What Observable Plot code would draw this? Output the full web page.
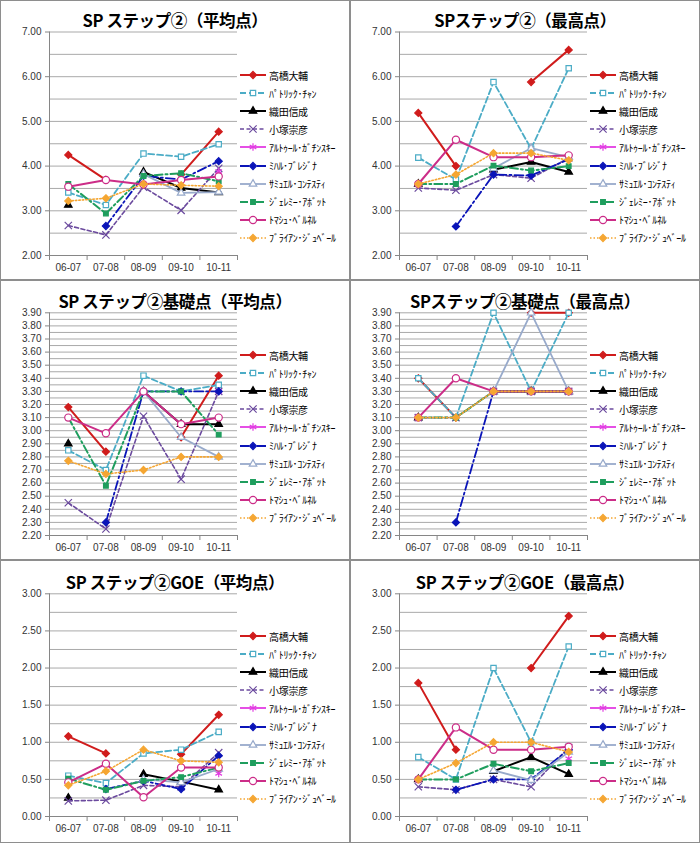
<!DOCTYPE html>
<html><head><meta charset="utf-8">
<script src="https://cdn.jsdelivr.net/npm/d3@7"></script>
<script src="https://cdn.jsdelivr.net/npm/@observablehq/plot@0.6"></script>
<style>
body{margin:0;background:#fff;}
#grid{display:grid;grid-template-columns:350px 350px;grid-template-rows:280px 280px 283px;width:700px;}
.panel{position:relative;overflow:hidden;background:#fff}
.panel::after{content:"";position:absolute;left:0;top:0;right:0;bottom:0;border:1px solid #8e8e8e;pointer-events:none}
.title{position:absolute;left:0;right:0;text-align:center;font:bold 16.5px "Noto Sans CJK JP";line-height:17px;color:#000;white-space:nowrap;letter-spacing:-0.4px}
.panel svg.plot{position:absolute;left:0;top:0}
.item{position:absolute;left:239px;height:14px;display:flex;align-items:center;white-space:nowrap;font:10px "Noto Sans CJK JP";color:#000;letter-spacing:-0.3px}
.item svg{margin-right:1px}
</style></head>
<body>
<div id="grid"></div>
<script>
const seasons = ["06-07","07-08","08-09","09-10","10-11"];
const skaters = ["高橋大輔","ﾊﾟﾄﾘｯｸ･ﾁｬﾝ","織田信成","小塚崇彦","ｱﾙﾄｩｰﾙ･ｶﾞﾁﾝｽｷｰ","ﾐﾊﾙ･ﾌﾞﾚｼﾞﾅ","ｻﾐｭｴﾙ･ｺﾝﾃｽﾃｨ","ｼﾞｪﾚﾐｰ･ｱﾎﾞｯﾄ","ﾄﾏｼｭ･ﾍﾞﾙﾈﾙ","ﾌﾞﾗｲｱﾝ･ｼﾞｭﾍﾞｰﾙ"];
const titles = ["SP ステップ②（平均点）","SPステップ②（最高点）","SP ステップ②基礎点（平均点）","SPステップ②基礎点（最高点）","SP ステップ②GOE（平均点）","SP ステップ②GOE（最高点）"];

const avgScore = [
  [4.25, 3.69, null, 3.81, 4.77],
  [3.41, 3.13, 4.28, 4.21, 4.49],
  [3.13, null, 3.87, 3.51, 3.41],
  [2.67, 2.46, 3.53, 3.01, 3.95],
  [null, null, null, null, 3.88],
  [null, 2.66, 3.78, 3.70, 4.11],
  [null, null, 3.82, 3.40, 3.42],
  [3.60, 2.94, 3.78, 3.84, 3.66],
  [3.54, 3.69, 3.59, 3.69, 3.77],
  [3.22, 3.28, 3.60, 3.57, 3.55]
];
const maxScore = [
  [5.19, 4.00, null, 5.88, 6.60],
  [4.19, 3.70, 5.88, 4.39, 6.19],
  [3.60, null, 3.92, 4.09, 3.87],
  [3.51, 3.46, 3.81, 3.73, 4.18],
  [null, null, null, null, 4.20],
  [null, 2.65, 3.81, 3.79, 4.15],
  [null, null, 3.95, 4.40, 4.20],
  [3.60, 3.60, 4.01, 3.90, 4.00],
  [3.60, 4.59, 4.20, 4.20, 4.24],
  [3.60, 3.81, 4.29, 4.29, 4.13]
];
const avgBase = [
  [3.18, 2.84, null, 2.95, 3.42],
  [2.85, 2.70, 3.42, 3.30, 3.35],
  [2.90, null, 3.30, 3.05, 3.05],
  [2.45, 2.25, 3.11, 2.63, 3.30],
  [null, null, null, null, 3.30],
  [null, 2.30, 3.30, 3.30, 3.30],
  [null, null, 3.30, 2.95, 2.80],
  [3.10, 2.58, 3.30, 3.30, 2.97],
  [3.10, 2.98, 3.30, 3.05, 3.10],
  [2.77, 2.67, 2.70, 2.80, 2.80]
];
const maxBase = [
  [3.40, 3.10, null, 3.90, 3.90],
  [3.40, 3.10, 3.90, 3.30, 3.90],
  [3.10, null, 3.30, 3.30, 3.30],
  [3.10, 3.10, 3.30, 3.30, 3.30],
  [null, null, null, null, 3.30],
  [null, 2.30, 3.30, 3.30, 3.30],
  [null, null, 3.30, 3.90, 3.30],
  [3.10, 3.10, 3.30, 3.30, 3.30],
  [3.10, 3.40, 3.30, 3.30, 3.30],
  [3.10, 3.10, 3.30, 3.30, 3.30]
];
const avgGoe = [
  [1.08, 0.85, null, 0.84, 1.37],
  [0.55, 0.45, 0.85, 0.90, 1.14],
  [0.25, null, 0.57, 0.47, 0.36],
  [0.21, 0.22, 0.42, 0.40, 0.86],
  [null, null, null, null, 0.58],
  [null, 0.37, 0.48, 0.37, 0.82],
  [null, null, 0.50, 0.46, 0.64],
  [0.51, 0.36, 0.48, 0.53, 0.66],
  [0.46, 0.71, 0.26, 0.66, 0.66],
  [0.42, 0.61, 0.90, 0.75, 0.73]
];
const maxGoe = [
  [1.80, 0.90, null, 2.00, 2.70],
  [0.80, 0.50, 2.00, 1.00, 2.29],
  [0.50, null, 0.61, 0.80, 0.57],
  [0.40, 0.36, 0.50, 0.40, 0.93],
  [null, null, null, null, 0.78],
  [null, 0.36, 0.50, 0.50, 0.90],
  [null, null, 0.62, 0.49, 0.87],
  [0.50, 0.50, 0.71, 0.61, 0.72],
  [0.50, 1.20, 0.90, 0.90, 0.94],
  [0.50, 0.72, 1.00, 1.00, 0.87]
];

const colors  = ["#d01c1c","#4bacc6","#000000","#6b4a9e","#e23be2","#0a14b8","#98aacb","#1f9e5e","#cc2d88","#f5a632"];
const symbols = ["diamond2","square2","triangle2","times","asterisk","diamond2","triangle2","square2","circle","diamond2"];
const filled  = [true,false,true,false,false,true,false,true,false,true];
const dashes  = [null,"6,3",null,"4,2.5",null,"9,3,2,3",null,"8,3,2,3",null,"1.5,2"];
const widths  = [2,1.8,2,1.6,1.8,1.8,1.8,2,2,1.6];
const radii   = [3.2,3.4,3.6,3.4,3.6,3.2,3.6,3.0,3.6,3.2];

const d3sym = {diamond2:d3.symbolDiamond2, square2:d3.symbolSquare2, triangle2:d3.symbolTriangle2, times:d3.symbolTimes, asterisk:d3.symbolAsterisk, circle:d3.symbolCircle};

const panels = [
  {vals:avgScore, dom:[2,7], major:1, minor:0.5, h:280, top:31.5, bottom:255, ty:11.5},
  {vals:maxScore, dom:[2,7], major:1, minor:0.5, h:280, top:31.5, bottom:255, ty:11.5},
  {vals:avgBase, dom:[2.2,3.9], major:0.1, minor:0.05, h:280, top:32.3, bottom:255, ty:13},
  {vals:maxBase, dom:[2.2,3.9], major:0.1, minor:0.05, h:280, top:32.3, bottom:255, ty:13},
  {vals:avgGoe, dom:[0,3], major:0.5, minor:0.25, h:283, top:33.3, bottom:256, ty:14},
  {vals:maxGoe, dom:[0,3], major:0.5, minor:0.25, h:283, top:33.3, bottom:256, ty:14}
];

function steps(dom, step) {
  const n = Math.round((dom[1]-dom[0])/step);
  return d3.range(n+1).map(i => +(dom[0] + i*step).toFixed(3));
}

const grid = document.getElementById("grid");
panels.forEach((p, pi) => {
  const div = document.createElement("div");
  div.className = "panel";
  grid.appendChild(div);

  const marks = [];
  marks.push(Plot.ruleY(steps(p.dom, p.minor), {stroke:"#a9a9a9", strokeWidth:1}));
  marks.push(Plot.ruleX([-0.5], {stroke:"#868686", strokeWidth:1}));
  marks.push(Plot.ruleY([p.dom[0]], {stroke:"#868686", strokeWidth:1}));
  marks.push(Plot.axisY({ticks: steps(p.dom, p.major), tickFormat: d => d.toFixed(2), tickSize:4, tickPadding:4, stroke:"#868686", fill:"#333", fontSize:10, label:null}));
  marks.push(Plot.axisX({ticks: d3.range(-0.5, 5, 1), tickFormat: () => "", tickSize:5, stroke:"#868686", label:null}));
  marks.push(Plot.axisX({ticks: d3.range(5), tickFormat: i => seasons[i], tickSize:0, tickPadding:8, fill:"#333", fontSize:10, label:null}));
  skaters.forEach((name, k) => {
    const data = p.vals[k].map((v, i) => ({i, v, name}));
    marks.push(Plot.line(data, {x:"i", y:"v", stroke:colors[k], strokeWidth:widths[k], strokeDasharray:dashes[k] || undefined}));
    marks.push(Plot.dot(data.filter(d => d.v != null), {x:"i", y:"v", symbol:symbols[k], r:radii[k],
      fill: filled[k] ? colors[k] : (symbols[k]==="times"||symbols[k]==="asterisk" ? "none" : "white"),
      stroke: colors[k], strokeWidth: 1.2}));
  });

  const svg = Plot.plot({
    width:350, height:p.h,
    marginLeft:49, marginRight:113, marginTop:p.top, marginBottom:p.h - p.bottom,
    x:{type:"linear", domain:[-0.5, 4.5], label:null},
    y:{domain:p.dom, label:null},
    style:{fontFamily:"'Liberation Sans', Arial, sans-serif", fontSize:"10px", background:"transparent", overflow:"visible"},
    marks
  });
  svg.classList.add("plot");
  div.appendChild(svg);

  const t = document.createElement("div");
  t.className = "title";
  t.style.top = p.ty + "px";
  t.textContent = titles[pi];
  div.appendChild(t);

  skaters.forEach((name, k) => {
    const it = document.createElement("div");
    it.className = "item";
    it.style.top = (68 + (pi >= 4 ? 1 : 0) + k * 18.1) + "px";
    const s = d3.create("svg").attr("width", 29).attr("height", 14);
    s.append("line").attr("x1", 1).attr("x2", 27).attr("y1", 7).attr("y2", 7)
      .attr("stroke", colors[k]).attr("stroke-width", widths[k]).attr("stroke-dasharray", dashes[k]);
    const isLine = symbols[k]==="times"||symbols[k]==="asterisk";
    s.append("path").attr("transform", "translate(14,7)")
      .attr("d", d3.symbol(d3sym[symbols[k]], Math.PI * radii[k] * radii[k])())
      .attr("fill", filled[k] ? colors[k] : (isLine ? "none" : "white"))
      .attr("stroke", colors[k]).attr("stroke-width", 1.2);
    it.appendChild(s.node());
    const span = document.createElement("span");
    span.textContent = name;
    it.appendChild(span);
    div.appendChild(it);
  });
});
</script>
</body></html>
